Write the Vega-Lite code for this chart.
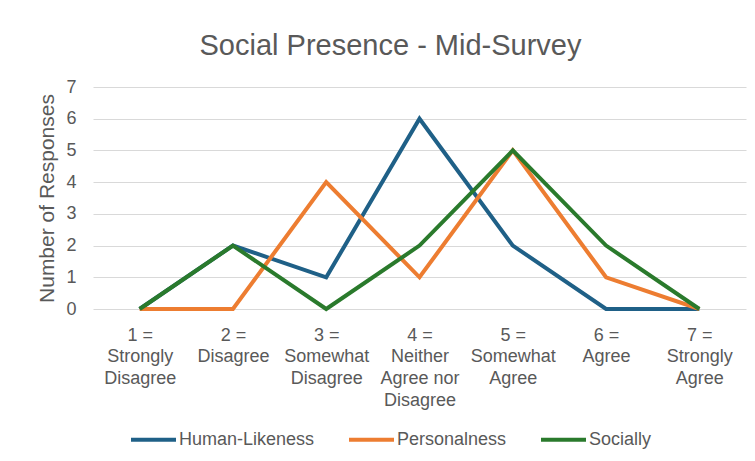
{
  "$schema": "https://vega.github.io/schema/vega-lite/v6.json",
  "width": 653,
  "height": 222,
  "autosize": "none",
  "padding": {"left": 93, "top": 87, "right": 9, "bottom": 152},
  "background": "white",
  "title": {
    "text": "Social Presence - Mid-Survey",
    "font": "Liberation Sans",
    "fontSize": 29,
    "fontWeight": "normal",
    "color": "#595959",
    "anchor": "middle",
    "dx": -29,
    "offset": 17
  },
  "data": {
    "values": [
      {"rating": "1 = Strongly Disagree", "series": "Human-Likeness", "count": 0},
      {"rating": "2 = Disagree", "series": "Human-Likeness", "count": 2},
      {"rating": "3 = Somewhat Disagree", "series": "Human-Likeness", "count": 1},
      {"rating": "4 = Neither Agree nor Disagree", "series": "Human-Likeness", "count": 6},
      {"rating": "5 = Somewhat Agree", "series": "Human-Likeness", "count": 2},
      {"rating": "6 = Agree", "series": "Human-Likeness", "count": 0},
      {"rating": "7 = Strongly Agree", "series": "Human-Likeness", "count": 0},
      {"rating": "1 = Strongly Disagree", "series": "Personalness", "count": 0},
      {"rating": "2 = Disagree", "series": "Personalness", "count": 0},
      {"rating": "3 = Somewhat Disagree", "series": "Personalness", "count": 4},
      {"rating": "4 = Neither Agree nor Disagree", "series": "Personalness", "count": 1},
      {"rating": "5 = Somewhat Agree", "series": "Personalness", "count": 5},
      {"rating": "6 = Agree", "series": "Personalness", "count": 1},
      {"rating": "7 = Strongly Agree", "series": "Personalness", "count": 0},
      {"rating": "1 = Strongly Disagree", "series": "Socially", "count": 0},
      {"rating": "2 = Disagree", "series": "Socially", "count": 2},
      {"rating": "3 = Somewhat Disagree", "series": "Socially", "count": 0},
      {"rating": "4 = Neither Agree nor Disagree", "series": "Socially", "count": 2},
      {"rating": "5 = Somewhat Agree", "series": "Socially", "count": 5},
      {"rating": "6 = Agree", "series": "Socially", "count": 2},
      {"rating": "7 = Strongly Agree", "series": "Socially", "count": 0}
    ]
  },
  "mark": {"type": "line", "strokeWidth": 4, "strokeCap": "butt", "strokeJoin": "miter"},
  "encoding": {
    "x": {
      "field": "rating",
      "type": "ordinal",
      "sort": null,
      "scale": {"type": "point", "padding": 0.5},
      "axis": {
        "title": null,
        "labelAngle": 0,
        "domain": false,
        "ticks": false,
        "grid": false,
        "labelPadding": 17,
        "labelFont": "Liberation Sans",
        "labelFontSize": 18,
        "labelColor": "#595959",
        "labelLineHeight": 21.7,
        "labelBaseline": "top",
        "labelExpr": "{'1 = Strongly Disagree': ['1 =', 'Strongly', 'Disagree'], '2 = Disagree': ['2 =', 'Disagree'], '3 = Somewhat Disagree': ['3 =', 'Somewhat', 'Disagree'], '4 = Neither Agree nor Disagree': ['4 =', 'Neither', 'Agree nor', 'Disagree'], '5 = Somewhat Agree': ['5 =', 'Somewhat', 'Agree'], '6 = Agree': ['6 =', 'Agree'], '7 = Strongly Agree': ['7 =', 'Strongly', 'Agree']}[datum.label]"
      }
    },
    "y": {
      "field": "count",
      "type": "quantitative",
      "scale": {"domain": [0, 7], "nice": false},
      "axis": {
        "title": "Number of Responses",
        "titleFont": "Liberation Sans",
        "titleFontSize": 21,
        "titleFontWeight": "normal",
        "titleColor": "#595959",
        "titlePadding": 8,
        "values": [0, 1, 2, 3, 4, 5, 6, 7],
        "domain": false,
        "ticks": false,
        "labelPadding": 17,
        "labelFont": "Liberation Sans",
        "labelFontSize": 18,
        "labelColor": "#595959",
        "gridColor": "#d9d9d9",
        "gridWidth": 1.2
      }
    },
    "color": {
      "field": "series",
      "type": "nominal",
      "scale": {
        "domain": ["Human-Likeness", "Personalness", "Socially"],
        "range": ["#1f6087", "#ed7d31", "#2a7a2c"]
      },
      "legend": {
        "title": null,
        "orient": "none",
        "direction": "horizontal",
        "legendX": 36,
        "legendY": 328,
        "symbolType": "stroke",
        "symbolStrokeWidth": 4,
        "symbolSize": 2025,
        "labelFont": "Liberation Sans",
        "labelFontSize": 18,
        "labelColor": "#595959",
        "labelOffset": 1,
        "columnPadding": 26
      }
    }
  },
  "config": {
    "view": {"stroke": null}
  }
}
